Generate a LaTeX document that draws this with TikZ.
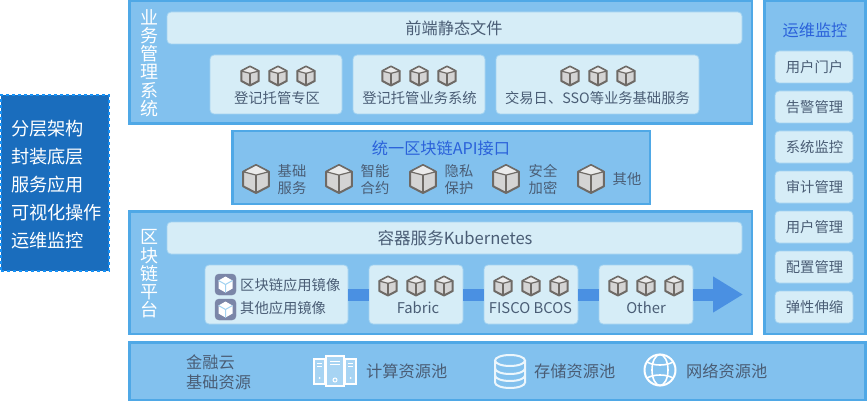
\documentclass[tikz,border=0pt]{standalone}
\usepackage{fontspec}
\setmainfont{Noto Sans CJK SC}
\usetikzlibrary{arrows.meta}
\definecolor{panelfill}{HTML}{82C1EE}
\definecolor{panelline}{HTML}{4FA8E6}
\definecolor{softfill}{HTML}{D6EDF7}
\definecolor{softline}{HTML}{A3D3F1}
\definecolor{inktext}{HTML}{4A5D75}
\definecolor{bluetext}{HTML}{2B62DA}
\definecolor{barblue}{HTML}{4A90E2}
\definecolor{sidefill}{HTML}{1A6DBD}
\definecolor{sideline}{HTML}{1590F5}
\definecolor{cubeline}{HTML}{6E6A66}
\definecolor{badgefill}{HTML}{7B86A8}
\tikzset{
	panel/.style={draw=panelline,fill=panelfill,line width=2.5pt,anchor=north west,inner sep=0pt},
	softbox/.style={draw=softline,fill=softfill,line width=.8pt,rounded corners=4pt,anchor=north west,inner sep=0pt},
	wh/.style 2 args={minimum width=#1,minimum height=#2},
	label/.style={text=inktext,inner sep=0pt,font=\fontsize{14.3}{17}\selectfont,align=center},
	latinlabel/.style={text=inktext,inner sep=0pt,font=\fontsize{14.8}{17}\selectfont},
	head/.style={text=inktext,inner sep=0pt,font=\fontsize{16.2}{20}\selectfont,align=center},
	bluehead/.style={text=bluetext,inner sep=0pt,font=\fontsize{16.2}{20}\selectfont},
	vtitle/.style={text=white,inner sep=0pt,font=\fontsize{18}{18.3}\selectfont,align=center},
	linkbar/.style={draw=barblue,line width=12pt},
	cube/.pic={
		\draw[cubeline,fill=black!17,line width=2pt,line join=round] (0,-1) -- (.92,-.52) -- (.92,.52) -- (0,1) -- (-.92,.52) -- (-.92,-.52) -- cycle ;
		\draw[cubeline,fill=white!92!black,line width=1.2pt,line join=round] (-.92,-.52) -- (0,-1) -- (.92,-.52) -- (0,-.28) -- cycle ;
		\draw[cubeline,line width=1.8pt] (0,-.28) -- (0,1) ;
	},
	badge/.pic={
		\draw[badgefill,fill=badgefill,rounded corners=4pt] (-10.5,-10.5) rectangle (10.5,10.5) ;
		\fill[white] (0,-8) -- (7,-4) -- (7,4) -- (0,8) -- (-7,4) -- (-7,-4) -- cycle ;
		\draw[softline,line width=1pt] (-7,-4) -- (0,0) -- (7,-4) (0,0) -- (0,8) ;
	},
	server/.pic={
		\draw[white,fill=panelfill!70!white,line width=2pt] (-21,-12) rectangle (-10,13) ;
		\draw[white,fill=panelfill!70!white,line width=2pt] (10,-12) rectangle (21,13) ;
		\draw[white,fill=panelfill!70!white,line width=2pt] (-9,-15) rectangle (9,15) ;
		\draw[white,line width=1pt] (-5,-10) -- (5,-10) (-5,-7) -- (5,-7) (-18,-8) -- (-13,-8) (-18,-5) -- (-13,-5) (13,-8) -- (18,-8) (13,-5) -- (18,-5) ;
		\draw[white,line width=1pt] (0,9) circle (2) ;
		\fill[white] (-15.5,7) circle (1) (15.5,7) circle (1) ;
	},
	storage/.pic={
		\draw[white!85!panelfill,line width=2pt] (0,-11) ellipse (15 and 5.5) ;
		\draw[white!85!panelfill,line width=2pt] (-15,-11) -- (-15,11) arc[start angle=180,end angle=360,x radius=15,y radius=-5.5] -- (15,-11) ;
		\draw[white!85!panelfill,line width=2pt] (-15,-3) arc[start angle=180,end angle=360,x radius=15,y radius=-5.5] ;
		\draw[white!85!panelfill,line width=2pt] (-15,4) arc[start angle=180,end angle=360,x radius=15,y radius=-5.5] ;
	},
	globe/.pic={
		\draw[white,line width=2pt] (0,0) circle (15.5) ;
		\draw[white,line width=1.6pt] (0,0) ellipse (8 and 15.5) ;
		\draw[white,line width=1.6pt] (-13,-8) .. controls (-6,-4) and (6,-4) .. (13,-8) ;
		\draw[white,line width=1.6pt] (-13,8) .. controls (-6,4) and (6,4) .. (13,8) ;
	},
}
\begin{document}
\begin{tikzpicture}[x=1pt,y=-1pt]
	\useasboundingbox (0,0) rectangle (867,401) ;
	% left legend
	\node (side)[draw=sideline,fill=sidefill,dashed,line width=2pt,anchor=north west,inner sep=0pt,wh={108pt}{176pt}] at (0,94) {} ;
	\node (sidetext)[anchor=north west,inner sep=0pt,text=white,align=left,font=\fontsize{18.2}{28}\selectfont] at (11,120) {分层架构\\封装底层\\服务应用\\可视化操作\\运维监控} ;
	% business layer
	\node (biz)[panel,wh={622.5pt}{122.5pt}] at (128,0) {} ;
	\node (biztitle)[vtitle] at (149,63) {业\\务\\管\\理\\系\\统} ;
	\node (front)[softbox,wh={575pt}{32pt}] at (166.6,11.6) {} ;
	\node (fronttext)[head] at (454,28) {前端静态文件} ;
	\node (zone)[softbox,wh={132pt}{59pt}] at (209.6,54.6) {} ;
	\node (zonetext)[label] at (277,98) {登记托管专区} ;
	\node (bizsys)[softbox,wh={132pt}{59pt}] at (352.6,54.6) {} ;
	\node (bizsystext)[label] at (419.5,98) {登记托管业务系统} ;
	\node (basesvc)[softbox,wh={203pt}{59pt}] at (495.6,54.6) {} ;
	\node (basesvctext)[label] at (597.5,98) {交易日、SSO等业务基础服务} ;
	% api layer
	\node (api)[panel,wh={417.5pt}{72.5pt}] at (231,130) {} ;
	\node (apititle)[bluehead] at (441,148) {统一区块链API接口} ;
	\node (api1)[label] at (292,179.5) {基础\\服务} ;
	\node (api2)[label] at (375,179.5) {智能\\合约} ;
	\node (api3)[label] at (459,179.5) {隐私\\保护} ;
	\node (api4)[label] at (543,179.5) {安全\\加密} ;
	\node (api5)[label] at (627,179) {其他} ;
	% chain layer
	\node (chain)[panel,wh={622.5pt}{122.5pt}] at (128,210) {} ;
	\node (chaintitle)[vtitle] at (149,274) {区\\块\\链\\平\\台} ;
	\node (kube)[softbox,wh={575pt}{32pt}] at (166.6,221.6) {} ;
	\node (kubetext)[head,font=\fontsize{16.6}{20}\selectfont] at (455,238) {容器服务Kubernetes} ;
	\node (images)[softbox,wh={143pt}{59pt}] at (204.6,264.6) {} ;
	\node (image1)[label,anchor=west] at (240,285) {区块链应用镜像} ;
	\node (image2)[label,anchor=west] at (240,308) {其他应用镜像} ;
	\node (fabric)[softbox,wh={94pt}{59pt}] at (368.6,264.6) {} ;
	\node (fabrictext)[latinlabel] at (418,308) {Fabric} ;
	\node (fisco)[softbox,wh={94pt}{59pt}] at (483.6,264.6) {} ;
	\node (fiscotext)[latinlabel] at (530.5,308) {FISCO BCOS} ;
	\node (other)[softbox,wh={94pt}{59pt}] at (598.6,264.6) {} ;
	\node (othertext)[latinlabel] at (646,308) {Other} ;
	\coordinate (flowend) at (743,294.5) ;
	\draw[linkbar] (images) -- (fabric) ;
	\draw[linkbar] (fabric) -- (fisco) ;
	\draw[linkbar] (fisco) -- (other) ;
	\draw[barblue,line width=12pt,-{Triangle[length=30pt,width=34pt]}] (other) -- (flowend) ;
	% ops column
	\node (ops)[panel,wh={101pt}{332.5pt}] at (763,0) {} ;
	\node (opstitle)[bluehead] at (815,30) {运维监控} ;
	\foreach \oy/\otext [count=\oi] in {51/用户门户,91/告警管理,131/系统监控,171/审计管理,211/用户管理,251/配置管理,291/弹性伸缩} {
		\node (opsbox\oi)[softbox,wh={78pt}{32pt}] at (774.6,\oy-.4) {} ;
		\node (opstext\oi)[label] at (814.5,\oy+16) {\otext} ;
	}
	% base layer
	\node (base)[panel,wh={736pt}{58pt}] at (128,341) {} ;
	\node (basetitle)[head,anchor=west,align=left] at (186,372) {金融云\\基础资源} ;
	\node (compute)[head,anchor=west] at (366,371.5) {计算资源池} ;
	\node (store)[head,anchor=west] at (534,371.5) {存储资源池} ;
	\node (network)[head,anchor=west] at (686,371.5) {网络资源池} ;
	\pic at (335,371) {server} ;
	\pic at (510,371.5) {storage} ;
	\pic at (660,370) {globe} ;
	\pic at (225.5,284.5) {badge} ;
	\pic at (225.5,309.5) {badge} ;
	% cubes
	\foreach \cx/\cy in {250/76,278/76,306/76,391/76,419/76,447/76,570/76,598/76,626/76,388/286,416/286,444/286,503/286,531/286,559/286,618/286,646/286,674/286}
		\pic[scale=9.5] at (\cx,\cy) {cube} ;
	\foreach \cx in {256,339,423,506,591}
		\pic[scale=14] at (\cx,179) {cube} ;
\end{tikzpicture}
\end{document}
